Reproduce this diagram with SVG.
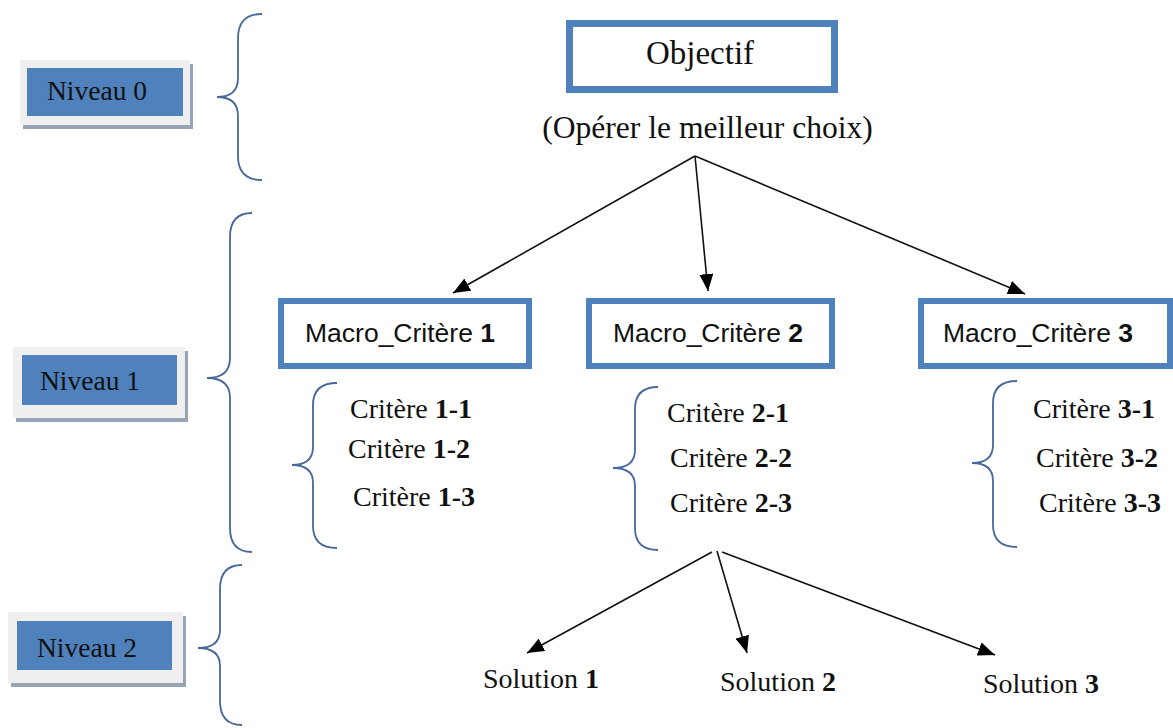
<svg xmlns="http://www.w3.org/2000/svg" width="1173" height="728" viewBox="0 0 1173 728">
<defs>
<style>
.serif{font-family:"Liberation Serif","Times New Roman",serif;fill:#111;}
.sans{font-family:"Liberation Sans",Arial,sans-serif;fill:#111;font-size:26.5px;}
.crit{font-size:28px;}
.niv{font-size:27.5px;}
.box{fill:#fff;stroke:#4f81bd;stroke-width:6;}
.frame{fill:#efefef;}
.shadow{fill:#98a4b6;}
.blue{fill:#4f81bd;}
.brace{fill:none;stroke:#48689a;stroke-width:1.8;}
.conn{stroke:#111;stroke-width:1.6;fill:none;marker-end:url(#ah);}
.b{font-weight:bold;}
</style>
<marker id="ah" viewBox="0 0 17 14" refX="17" refY="7" markerWidth="17" markerHeight="14" markerUnits="userSpaceOnUse" orient="auto">
<path d="M0,0 L17,7 L0,14 z" fill="#000"/>
</marker>
</defs>
<rect width="1173" height="728" fill="#fff"/>

<g id="niveau0">
<rect class="shadow" x="23" y="64" width="170" height="65"/>
<rect class="frame" x="20" y="60" width="170" height="65"/>
<rect class="blue" x="27" y="68" width="156" height="48"/>
<text class="serif niv" x="47" y="100">Niveau 0</text>
</g>
<g id="niveau1">
<rect class="shadow" x="16" y="351" width="172" height="71"/>
<rect class="frame" x="13" y="347" width="172" height="71"/>
<rect class="blue" x="22" y="355" width="155" height="50"/>
<text class="serif niv" x="40" y="390">Niveau 1</text>
</g>
<g id="niveau2">
<rect class="shadow" x="11" y="616" width="175" height="71"/>
<rect class="frame" x="8" y="612" width="175" height="71"/>
<rect class="blue" x="17" y="621" width="155" height="49"/>
<text class="serif niv" x="37" y="657">Niveau 2</text>
</g>

<g id="braces">
<path class="brace" d="M262,14 Q238,14 238,38 L238,78 Q238,97 217,97 Q238,97 238,116 L238,156 Q238,180 262,180"/>
<path class="brace" d="M252,213 Q230,213 230,237 L230,358 Q230,378 207,378 Q230,378 230,398 L230,528 Q230,552 252,552"/>
<path class="brace" d="M242,565 Q220,565 220,589 L220,630 Q220,648 198,648 Q220,648 220,666 L220,701 Q220,725 242,725"/>
<path class="brace" d="M337,383 Q313,383 313,405 L313,447 Q313,465 292,465 Q313,465 313,483 L313,526 Q313,548 337,548"/>
<path class="brace" d="M658,387 Q635,387 635,409 L635,450 Q635,468 613,468 Q635,468 635,486 L635,528 Q635,550 658,550"/>
<path class="brace" d="M1017,381 Q993,381 993,403 L993,445 Q993,463 972,463 Q993,463 993,481 L993,525 Q993,547 1017,547"/>
</g>

<g id="objectif">
<rect class="box" x="569.5" y="23.5" width="265" height="66" style="stroke-width:7"/>
<text class="serif" x="700" y="64" text-anchor="middle" font-size="33">Objectif</text>
<text class="serif" x="707.5" y="138" text-anchor="middle" font-size="31.6">(Opérer le meilleur choix)</text>
</g>

<g id="macro1">
<rect class="box" x="281" y="301" width="248" height="65"/>
<text class="sans" x="305" y="342">Macro_Critère <tspan class="b">1</tspan></text>
</g>
<g id="macro2">
<rect class="box" x="589" y="301" width="243" height="65"/>
<text class="sans" x="613" y="342">Macro_Critère <tspan class="b">2</tspan></text>
</g>
<g id="macro3">
<rect class="box" x="921" y="301" width="249" height="65"/>
<text class="sans" x="943" y="342">Macro_Critère <tspan class="b">3</tspan></text>
</g>

<g id="criteres1">
<text class="serif crit" x="350" y="418">Critère <tspan class="b">1-1</tspan></text>
<text class="serif crit" x="348" y="458">Critère <tspan class="b">1-2</tspan></text>
<text class="serif crit" x="353" y="506">Critère <tspan class="b">1-3</tspan></text>
</g>
<g id="criteres2">
<text class="serif crit" x="667" y="422">Critère <tspan class="b">2-1</tspan></text>
<text class="serif crit" x="670" y="467">Critère <tspan class="b">2-2</tspan></text>
<text class="serif crit" x="670" y="512">Critère <tspan class="b">2-3</tspan></text>
</g>
<g id="criteres3">
<text class="serif crit" x="1033" y="418">Critère <tspan class="b">3-1</tspan></text>
<text class="serif crit" x="1036" y="467">Critère <tspan class="b">3-2</tspan></text>
<text class="serif crit" x="1039" y="512">Critère <tspan class="b">3-3</tspan></text>
</g>

<g id="solution1"><text class="serif crit" x="483" y="688">Solution <tspan class="b">1</tspan></text></g>
<g id="solution2"><text class="serif crit" x="720" y="691">Solution <tspan class="b">2</tspan></text></g>
<g id="solution3"><text class="serif crit" x="983" y="693">Solution <tspan class="b">3</tspan></text></g>

<g id="connectors">
<line class="conn" x1="695" y1="156" x2="453" y2="293"/>
<line class="conn" x1="695" y1="156" x2="708" y2="291"/>
<line class="conn" x1="695" y1="156" x2="1025" y2="294"/>
<line class="conn" x1="712" y1="552" x2="527" y2="653"/>
<line class="conn" x1="717" y1="551" x2="747" y2="653"/>
<line class="conn" x1="722" y1="552" x2="995" y2="655"/>
</g>
</svg>
